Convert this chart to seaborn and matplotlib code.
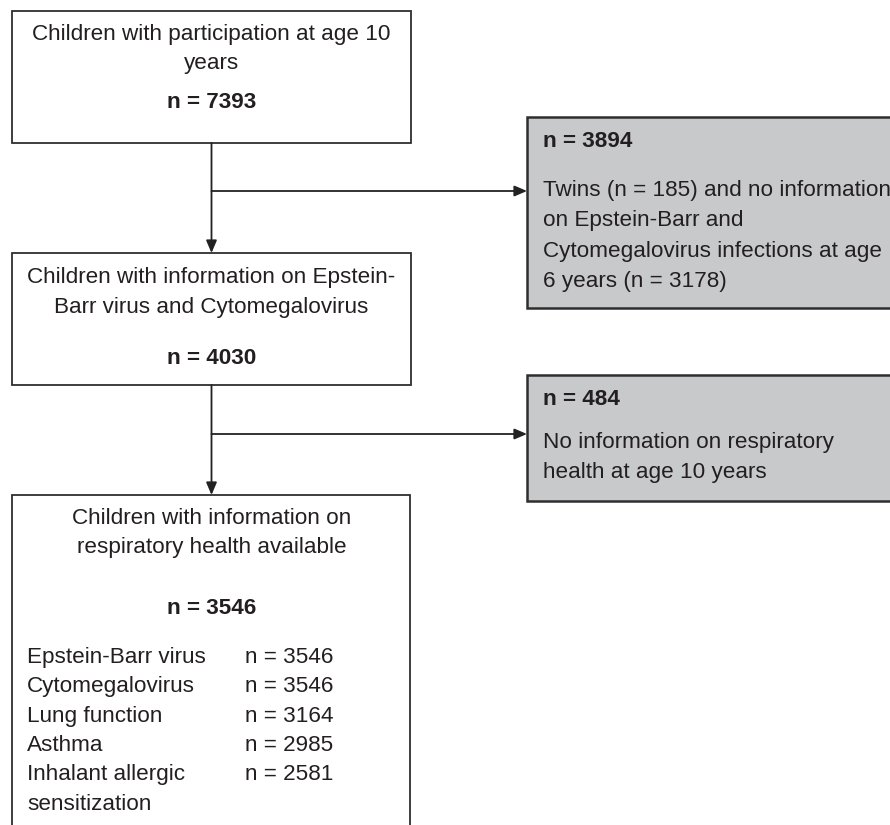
import matplotlib
matplotlib.use("Agg")
import matplotlib.pyplot as plt
from matplotlib.patches import Rectangle
import seaborn as sns

## flowchart content
main_titles = [
    ["Children with participation at age 10", "years"],
    ["Children with information on Epstein-", "Barr virus and Cytomegalovirus"],
    ["Children with information on", "respiratory health available"],
]
main_n = [7393, 4030, 3546]

excl_n = [3894, 484]
excl_texts = [
    ["Twins (n = 185) and no information", "on Epstein-Barr and",
     "Cytomegalovirus infections at age", "6 years (n = 3178)"],
    ["No information on respiratory", "health at age 10 years"],
]

outcomes = ["Epstein-Barr virus", "Cytomegalovirus", "Lung function", "Asthma",
            "Inhalant allergic"]
outcome_n = [3546, 3546, 3164, 2985, 2581]
outcome_extra = "sensitization"

sns.set_style("white")
plt.rcParams['font.family'] = ['Liberation Sans', 'DejaVu Sans']

fig = plt.figure(figsize=(8.9, 8.25), dpi=100)
ax = fig.add_axes([0, 0, 1, 1])
ax.set_xlim(0, 890)
ax.set_ylim(825, 0)
ax.axis("off")

fs = 16.2
txt_col = "#231f20"
edge = "#2e2e2e"
grey = "#c8c9cb"

# main boxes (x0, y0, x1, y1)
main_boxes = [(12, 11, 411, 143), (12, 253, 411, 385), (12, 495, 410, 860)]
for (x0, y0, x1, y1) in main_boxes:
    ax.add_patch(Rectangle((x0, y0), x1 - x0, y1 - y0, facecolor="white",
                           edgecolor=edge, lw=1.3, zorder=2))

# exclusion boxes
excl_boxes = [(527, 117, 900, 308), (527, 375, 900, 501)]
for (x0, y0, x1, y1) in excl_boxes:
    ax.add_patch(Rectangle((x0, y0), x1 - x0, y1 - y0, facecolor=grey,
                           edgecolor=edge, lw=1.8, zorder=2))

def put(x, y, s, ha="left", bold=False):
    ax.text(x, y, s, ha=ha, va="baseline", fontsize=fs, color=txt_col,
            fontweight="bold" if bold else "normal", zorder=3)

# titles of main boxes (baselines)
title_y = [[40, 69], [283, 313], [524, 553]]
n_y = [108, 364, 614]
cx = 211.5
for lines, ys, n, ny in zip(main_titles, title_y, main_n, n_y):
    for line, y in zip(lines, ys):
        put(cx, y, line, ha="center")
    put(cx, ny, f"n = {n}", ha="center", bold=True)

# outcome list in last box
list_y = [663, 692, 722, 751, 780]
for name, n, y in zip(outcomes, outcome_n, list_y):
    put(27, y, name)
    put(245, y, f"n = {n}")
put(27, 810, outcome_extra)

# exclusion texts
excl_n_y = [147, 405]
excl_line_y = [[196, 226, 257, 287], [448, 478]]
for n, ny, lines, ys in zip(excl_n, excl_n_y, excl_texts, excl_line_y):
    put(543, ny, f"n = {n}", bold=True)
    for line, y in zip(lines, ys):
        put(543, y, line)

# connectors
arrow = dict(arrowstyle="-|>,head_length=0.75,head_width=0.32", color="#222222",
             lw=1.3, shrinkA=0, shrinkB=0)
ax.annotate("", xy=(cx, 253), xytext=(cx, 143), arrowprops=arrow)
ax.annotate("", xy=(cx, 495), xytext=(cx, 385), arrowprops=arrow)
ax.annotate("", xy=(527, 191), xytext=(cx, 191), arrowprops=arrow)
ax.annotate("", xy=(527, 434), xytext=(cx, 434), arrowprops=arrow)

plt.savefig("out.png", dpi=100)
